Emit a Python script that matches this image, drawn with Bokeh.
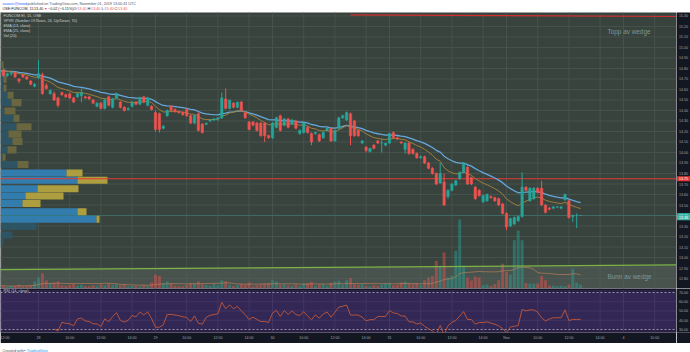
import numpy as np
from bokeh.plotting import figure
from bokeh.layouts import column, row
from bokeh.models import ColumnDataSource, Range1d, FixedTicker
from bokeh.core.properties import value
from bokeh.embed import file_html
from bokeh.resources import INLINE

# ---------------- data (15-min bars, OSE:FUNCOM) ----------------
opens = [14.76,14.78,14.73,14.75,14.76,14.70,14.74,14.72,14.68,14.63,
 14.71,14.74,14.64,14.56,14.56,14.52,14.57,14.55,14.56,14.52,14.53,14.54,14.53,14.53,14.50,14.44,14.47,14.42,14.53,14.43,
 14.52,14.48,14.43,14.41,14.44,14.48,14.46,14.53,14.45,14.44,
 14.38,14.37,14.23,14.35,14.44,14.41,14.39,14.38,14.41,14.35,14.28,14.37,14.27,14.27,14.30,14.31,14.32,14.33,14.51,14.42,
 14.47,14.43,14.48,14.38,14.29,14.29,14.28,14.28,14.28,14.16,
 14.14,14.24,14.35,14.26,14.32,14.27,14.30,14.18,14.19,14.24,14.18,14.18,14.17,14.14,14.21,14.23,14.11,14.23,14.33,14.31,
 14.37,14.30,14.21,14.09,14.05,14.01,14.07,14.11,14.09,14.07,
 14.09,14.19,14.14,14.10,14.03,14.09,14.03,13.99,13.95,13.96,13.90,13.85,13.80,13.71,13.72,13.58,13.64,13.69,13.75,13.81,
 13.86,13.76,13.67,13.64,13.53,13.54,13.58,13.57,13.56,13.51,
 13.42,13.30,13.32,13.35,13.39,13.67,13.54,13.56,13.66,13.66,13.50,13.47,13.47,13.48,13.47,13.55,13.54,13.39,13.40,13.40]
highs = [14.79,14.80,14.76,14.77,14.77,14.71,14.75,14.73,14.69,14.66,
 14.88,14.76,14.66,14.60,14.58,14.53,14.58,14.56,14.57,14.53,14.57,14.61,14.54,14.54,14.51,14.48,14.48,14.51,14.54,14.52,
 14.57,14.49,14.44,14.43,14.49,14.49,14.53,14.54,14.53,14.45,
 14.40,14.38,14.26,14.41,14.45,14.42,14.40,14.39,14.42,14.36,14.36,14.38,14.28,14.28,14.31,14.33,14.33,14.57,14.61,14.50,
 14.48,14.48,14.49,14.39,14.30,14.30,14.29,14.29,14.29,14.17,
 14.29,14.34,14.36,14.33,14.33,14.32,14.31,14.22,14.29,14.25,14.19,14.20,14.18,14.20,14.24,14.24,14.22,14.34,14.36,14.39,
 14.38,14.31,14.22,14.12,14.06,14.04,14.08,14.12,14.13,14.09,
 14.19,14.20,14.15,14.11,14.10,14.10,14.04,14.00,13.97,13.97,13.91,13.86,13.81,13.90,13.80,13.65,13.71,13.74,13.82,13.91,
 13.88,13.77,13.68,13.65,13.60,13.61,13.59,13.58,13.57,13.52,
 13.43,13.38,13.39,13.40,13.81,13.68,13.67,13.67,13.67,13.73,13.51,13.48,13.49,13.49,13.49,13.61,13.55,13.41,13.42,13.40]
lows = [14.74,14.72,14.72,14.73,14.71,14.66,14.71,14.69,14.64,14.62,
 14.70,14.55,14.60,14.55,14.49,14.43,14.54,14.52,14.51,14.47,14.52,14.48,14.51,14.50,14.46,14.43,14.41,14.41,14.44,14.42,
 14.51,14.42,14.39,14.40,14.43,14.45,14.45,14.47,14.44,14.40,
 14.20,14.19,14.22,14.34,14.39,14.38,14.37,14.35,14.34,14.27,14.27,14.20,14.18,14.26,14.29,14.30,14.30,14.32,14.41,14.41,
 14.42,14.42,14.39,14.32,14.21,14.25,14.20,14.15,14.10,14.13,
 14.13,14.23,14.20,14.25,14.23,14.26,14.22,14.17,14.18,14.18,14.07,14.17,14.10,14.13,14.20,14.10,14.10,14.22,14.32,14.30,
 14.07,14.15,14.15,14.08,14.00,14.00,14.03,14.08,14.00,14.06,
 14.08,14.13,14.12,14.08,13.99,13.98,13.98,13.94,13.94,13.89,13.84,13.79,13.69,13.70,13.49,13.56,13.63,13.68,13.74,13.80,
 13.69,13.69,13.55,13.58,13.52,13.53,13.56,13.53,13.49,13.41,
 13.26,13.29,13.31,13.34,13.38,13.63,13.53,13.55,13.61,13.49,13.42,13.45,13.46,13.47,13.46,13.54,13.37,13.34,13.28,13.40]
closes = [14.78,14.73,14.75,14.76,14.72,14.68,14.72,14.70,14.65,14.65,
 14.75,14.56,14.61,14.59,14.50,14.45,14.55,14.53,14.52,14.48,14.56,14.57,14.52,14.51,14.47,14.47,14.42,14.50,14.45,14.51,
 14.56,14.43,14.40,14.42,14.48,14.46,14.52,14.48,14.52,14.41,
 14.22,14.22,14.25,14.40,14.40,14.39,14.38,14.36,14.35,14.28,14.35,14.21,14.19,14.28,14.31,14.32,14.33,14.52,14.42,14.50,
 14.43,14.48,14.40,14.33,14.22,14.26,14.21,14.16,14.16,14.14,
 14.28,14.33,14.21,14.32,14.24,14.31,14.23,14.21,14.28,14.19,14.10,14.19,14.11,14.19,14.23,14.11,14.21,14.33,14.35,14.38,
 14.16,14.16,14.16,14.11,14.02,14.04,14.04,14.09,14.09,14.09,
 14.18,14.14,14.13,14.09,14.09,13.99,13.99,13.95,13.96,13.90,13.85,13.80,13.70,13.80,13.50,13.64,13.70,13.73,13.81,13.90,
 13.70,13.70,13.56,13.59,13.59,13.60,13.57,13.54,13.50,13.42,
 13.29,13.37,13.38,13.39,13.67,13.64,13.66,13.66,13.62,13.50,13.43,13.46,13.48,13.48,13.48,13.60,13.38,13.40,13.40,13.40]
volumes = [12,8,6,9,10,14,8,10,12,25,
 40,55,30,20,22,25,12,10,14,16,10,14,9,8,12,10,15,12,18,14,16,12,15,8,10,9,7,12,10,22,
 50,45,20,25,18,10,9,8,14,20,18,25,16,14,10,18,12,30,26,14,9,12,16,14,22,8,12,16,18,20,
 30,25,14,16,12,10,15,9,18,20,24,10,14,16,10,20,25,28,14,30,38,16,14,16,10,8,12,10,14,18,
 20,12,14,22,25,18,16,20,14,30,40,45,100,83,130,40,47,137,250,83,40,29,43,40,12,14,10,16,30,90,
 60,50,175,210,175,20,18,18,18,45,30,10,10,8,10,8,14,72,22,14]

# time axis: bar index -> label
time_tick_idx = [0.5, 10, 18, 26, 34, 40, 48, 56, 64, 70, 78, 86, 94, 100, 108, 116, 124, 130, 138, 146, 154, 160, 168]
time_tick_lbl = ["12:00", "28", "10:00", "12:00", "14:00", "29", "10:00", "12:00", "14:00", "30", "10:00", "12:00",
                 "14:00", "31", "10:00", "12:00", "14:00", "Nov", "10:00", "12:00", "14:00", "4", "10:00"]
price_ticks = [round(12.8 + 0.1 * k, 2) for k in range(26)]
rsi_ticks = [30, 40, 50, 60, 70]

# volume profile (24 rows, top->bottom), up / down volume
vp_row_low = [14.80,14.73,14.66,14.58,14.51,14.44,14.36,14.29,14.21,14.14,14.07,13.99,
              13.92,13.85,13.77,13.70,13.62,13.55,13.48,13.40,13.33,13.26,13.18,13.11]
vp_up = [10,20,30,30,70,110,40,130,160,80,120,70,20,170,660,770,370,250,220,770,960,360,120,30]
vp_down = [20,30,30,30,60,100,110,60,150,130,100,90,30,110,160,300,410,380,180,90,30,0,0,0]
vp_va_first, vp_va_last = 14, 20

level_red = 13.75
last_price = 13.40
second_tag = 13.38
topp_line_x = [90, 174]
topp_line_p = [15.31, 15.295]
bunn_line_x = [0, 174]
bunn_line_p = [12.885, 12.93]

# ---------------- indicators ----------------
def ema(vals, n):
    a = 2.0 / (n + 1)
    out = [vals[0]]
    for v in vals[1:]:
        out.append(a * v + (1 - a) * out[-1])
    return out

def sma(vals, n):
    out = []
    for k in range(len(vals)):
        w = vals[max(0, k - n + 1):k + 1]
        out.append(sum(w) / len(w))
    return out

def rsi(vals, n=14):
    ch = np.diff(vals)
    up = np.where(ch > 0, ch, 0.0)
    dn = np.where(ch < 0, -ch, 0.0)
    au, ad = up[:n].mean(), dn[:n].mean()
    out = [np.nan] * (n)
    out.append(100 - 100 / (1 + au / ad) if ad > 0 else 100)
    for k in range(n, len(ch)):
        au = (au * (n - 1) + up[k]) / n
        ad = (ad * (n - 1) + dn[k]) / n
        out.append(100 - 100 / (1 + au / ad) if ad > 0 else 100)
    return out

N = len(closes)
idx = list(range(N))
ema_fast = ema(closes, 13)
ema_slow = ema(closes, 25)
vol_ma = sma(volumes, 20)
rsi_v = rsi(closes, 14)

# ---------------- layout constants ----------------
BAR_PX = 3.9
X0, X1 = 1 / BAR_PX, 677 / BAR_PX
P_TOP, P_BOT = 15.333, 12.705
R_TOP, R_BOT = 74.32, 26.76
FONT = "Liberation Sans"
UP, DN = "#26a69a", "#ef5350"
PANE_BG = "#39433e"
GRID = "#46524c"
AX_BG = "#131722"
AX_TXT = "#a3a6af"
AX_FS = "3.6px"
PX_PER_P = 276.0 / (P_TOP - P_BOT)
PX_PER_R = 44.0 / (R_TOP - R_BOT)

def px_to_i(px):
    return (px + 1) / BAR_PX

def py_to_p(py):
    return P_TOP - (py - 12) / PX_PER_P

def bare(fig):
    fig.grid.visible = False
    fig.axis.visible = False

# ---------------- header ----------------
hdr = figure(width=690, height=12, x_range=(0, 690), y_range=(12, 0), toolbar_location=None, tools="",
             output_backend="svg", min_border=0, outline_line_color=None)
bare(hdr)
hdr.background_fill_color = "white"
hdr.border_fill_color = "white"
hs = dict(text_font=value(FONT), text_font_size="3.7px", text_baseline="middle")
hdr.text(x=[2], y=[3.3], text=["sooosir@toved"], text_color="#2962ff", **hs)
hdr.text(x=[27], y=[3.3], text=["published on TradingView.com, November 01, 2019 13:00:41 UTC"], text_color="#50535e", **hs)
hdr.text(x=[2], y=[8.4], text=["OSE:FUNCOM, 15"], text_color="#131722", **hs)
hdr.text(x=[33.5], y=[8.4], text=["13.40"], text_color="#131722", **hs)
hdr.text(x=[43.5], y=[8.4], text=["\u25bc"], text_color="#ef5350", **hs)
hdr.text(x=[47.5], y=[8.4], text=["\u22120.02 (\u22120.15%)"], text_color="#131722", **hs)
for lab, lx, vx in [("O:", 73, 76.8), ("H:", 87, 90.6), ("L:", 101, 104), ("C:", 114, 117.6)]:
    hdr.text(x=[lx], y=[8.4], text=[lab], text_color="#131722", **hs)
    hdr.text(x=[vx], y=[8.4], text=["13.40"], text_color="#ef5350", **hs)

# ---------------- price pane ----------------
p = figure(frame_width=676, frame_height=276, x_range=Range1d(X0, X1), y_range=Range1d(P_BOT, P_TOP),
           toolbar_location=None, tools="", output_backend="svg", x_axis_location=None, y_axis_location=None,
           min_border=0, outline_line_color=None)
bare(p)
p.background_fill_color = PANE_BG
p.border_fill_color = AX_BG
p.segment(x0=X0, x1=X1, y0=price_ticks, y1=price_ticks, line_color=GRID, line_width=1)
p.segment(x0=time_tick_idx, x1=time_tick_idx, y0=P_BOT, y1=P_TOP, line_color=GRID, line_width=1)

# lighter band under the wedge bottom line
p.patch(x=[bunn_line_x[0], bunn_line_x[1], bunn_line_x[1], bunn_line_x[0]],
        y=[bunn_line_p[0], bunn_line_p[1], P_BOT, P_BOT], fill_color="#56605b", fill_alpha=0.55, line_color=None)

# volume
p.extra_y_ranges = {"vol": Range1d(0, 1000)}
vcol = [UP if c >= o else DN for o, c in zip(opens, closes)]
vsrc = ColumnDataSource(dict(x=idx, v=volumes, c=vcol))
p.vbar(x="x", top="v", bottom=0, width=0.75, fill_color="c", fill_alpha=0.45, line_color=None,
       source=vsrc, y_range_name="vol")
p.line(idx, vol_ma, line_color="#c8825a", line_alpha=0.6, line_width=1, y_range_name="vol")

# volume profile
row_h = vp_row_low[0] - vp_row_low[1]
VP_SCALE = 0.1 / BAR_PX
vp_mid = [lo + row_h / 2 for lo in vp_row_low]
in_va = [vp_va_first <= k <= vp_va_last for k in range(len(vp_up))]
up_r = [X0 + u * VP_SCALE for u in vp_up]
tot_r = [X0 + (u + d) * VP_SCALE for u, d in zip(vp_up, vp_down)]
blue = ["#3180b4" if f else "#2d5566" for f in in_va]
yell = ["#b3a340" if f else "#6b6840" for f in in_va]
p.hbar(y=vp_mid, left=X0, right=up_r, height=row_h * 0.96, fill_color=blue, line_color=None, fill_alpha=0.95)
p.hbar(y=vp_mid, left=up_r, right=tot_r, height=row_h * 0.96, fill_color=yell, line_color=None, fill_alpha=0.95)

# horizontal levels
p.line([X0, X1], [level_red, level_red], line_color="#e53935", line_width=1.2)
p.line([X0, X1], [last_price, last_price], line_color="#26a69a", line_width=1, line_alpha=0.6, line_dash="1 1")
p.line(topp_line_x, topp_line_p, line_color="#d32f2f", line_width=1.2)
p.line(bunn_line_x, bunn_line_p, line_color="#7cb342", line_width=1.2)

# EMAs
p.line(idx, ema_slow, line_color="#64a8dc", line_width=1.3)
p.line(idx, ema_fast, line_color="#9e7d3c", line_width=1)

# candles
csrc = ColumnDataSource(dict(x=idx, o=opens, h=highs, l=lows, c=closes, col=vcol))
p.segment(x0="x", y0="h", x1="x", y1="l", line_color="col", line_width=1, source=csrc)
p.vbar(x="x", top="o", bottom="c", width=0.62, fill_color="col", line_color="col", line_width=0.5, source=csrc)

# texts in pane
ls = dict(text_font=value(FONT), text_font_size="3.8px", text_color="#c9ccd3", text_baseline="middle")
leg = ["FUNCOM EI, 15, OSE", "VPVR (Number Of Rows, 24, Up/Down, 70)", "EMA (13, close)", "EMA (25, close)", "Vol (20)"]
for k, t in enumerate(leg):
    p.text(x=[px_to_i(3)], y=[py_to_p(15.8 + k * 4.9)], text=[t], **ls)
ws = dict(text_font=value(FONT), text_font_size="6.4px", text_color="#7d9695", text_baseline="middle")
p.text(x=[px_to_i(607)], y=[py_to_p(31)], text=["Topp av wedge"], **ws)
p.text(x=[px_to_i(607)], y=[py_to_p(276)], text=["Bunn av wedge"], **ws)

# price scale (right)
pax = figure(frame_width=14, frame_height=276, x_range=(0, 14), y_range=p.y_range, toolbar_location=None,
             tools="", output_backend="svg", min_border=0, outline_line_color=None)
bare(pax)
pax.background_fill_color = AX_BG
pax.border_fill_color = AX_BG
axs = dict(text_font=value(FONT), text_font_size=AX_FS, text_baseline="middle", text_align="left")
pax.text(x=2.5, y=price_ticks, text=["%.2f" % t for t in price_ticks], text_color=AX_TXT, **axs)
box_h = 2.6 / PX_PER_P
for yv, txt, colr in [(level_red, "13.75", "#e53935"), (last_price, "13.40", "#26a69a"),
                      (second_tag, "13.38", "#3fb5a8")]:
    pax.quad(left=0.6, right=14, bottom=yv - box_h, top=yv + box_h, fill_color=colr, line_color=None)
    pax.text(x=[2.5], y=[yv], text=[txt], text_color="white", **axs)

# ---------------- RSI pane ----------------
r = figure(frame_width=676, frame_height=44, x_range=p.x_range, y_range=Range1d(R_BOT, R_TOP),
           toolbar_location=None, tools="", output_backend="svg", y_axis_location=None,
           min_border=0, min_border_bottom=11, outline_line_color=None)
r.grid.visible = False
r.background_fill_color = "#2a2046"
r.border_fill_color = AX_BG
xa = r.xaxis[0]
xa.ticker = FixedTicker(ticks=time_tick_idx)
xa.major_label_overrides = {t: l for t, l in zip(time_tick_idx, time_tick_lbl)}
xa.major_label_text_font = FONT
xa.major_label_text_font_size = AX_FS
xa.major_label_text_color = AX_TXT
xa.major_tick_line_color = None
xa.minor_tick_line_color = None
xa.major_tick_out = 0
xa.major_tick_in = 0
xa.minor_tick_out = 0
xa.axis_line_color = None
xa.major_label_standoff = 3
r.segment(x0=X0, x1=X1, y0=[40, 50, 60], y1=[40, 50, 60], line_color="#3a3158", line_width=1)
r.segment(x0=time_tick_idx, x1=time_tick_idx, y0=R_BOT, y1=R_TOP, line_color="#3a3158", line_width=1)
r.quad(left=X0, right=X1, bottom=30, top=70, fill_color="#7e57c2", fill_alpha=0.12, line_color=None)
r.line([X0, X1], [70, 70], line_color="#9598a1", line_dash="2 2", line_width=1)
r.line([X0, X1], [30, 30], line_color="#9598a1", line_dash="2 2", line_width=1)
r.line(idx, rsi_v, line_color="#b5543c", line_width=1)
r.quad(left=X0 - 1, right=X1 + 1, bottom=R_TOP - 1.6 / PX_PER_R, top=R_TOP, fill_color=AX_BG, line_color=None)
r.text(x=[px_to_i(3)], y=[71.6], text=["RSI (14, close)"], **ls)

rax = figure(frame_width=14, frame_height=44, x_range=(0, 14), y_range=r.y_range, toolbar_location=None,
             tools="", output_backend="svg", min_border=0, min_border_bottom=11, outline_line_color=None)
bare(rax)
rax.background_fill_color = AX_BG
rax.border_fill_color = AX_BG
rax.text(x=2.5, y=rsi_ticks, text=["%.2f" % t for t in rsi_ticks], text_color=AX_TXT, **axs)

# ---------------- footer ----------------
ftr = figure(width=690, height=9, x_range=(0, 690), y_range=(9, 0), toolbar_location=None, tools="",
             output_backend="svg", min_border=0, outline_line_color=None)
bare(ftr)
ftr.background_fill_color = "white"
ftr.border_fill_color = "white"
fs = dict(text_font=value(FONT), text_font_size="3.8px", text_baseline="middle")
ftr.text(x=[2], y=[4.5], text=["Created with"], text_color="#50535e", **fs)
ftr.text(x=[23], y=[4.5], text=["\u25d3 TradingView"], text_color="#2196f3", **fs)

lay = column(hdr, row(p, pax, spacing=0), row(r, rax, spacing=0), ftr, spacing=0)
open("out.html", "w").write(file_html(lay, INLINE))
